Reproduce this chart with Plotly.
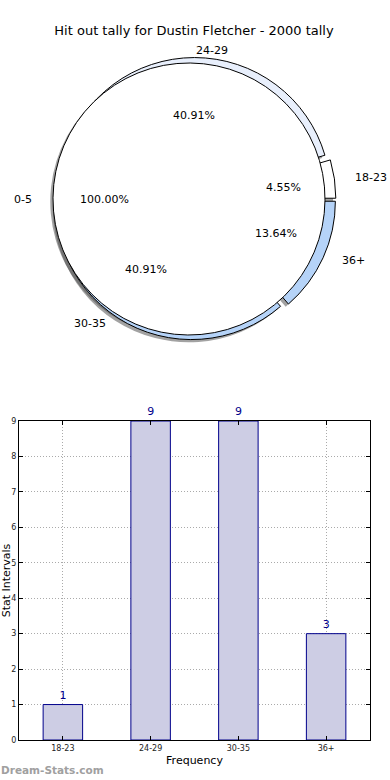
import math
import plotly.graph_objects as go

W, H = 390, 780

# ---------------- data ----------------
title_text = "Hit out tally for Dustin Fletcher - 2000 tally"
categories = ["18-23", "24-29", "30-35", "36+"]
counts = [1, 9, 9, 3]
pie_colors = ["#ffffff", "#e8effc", "#b5d3f8", "#b5d3f8"]
base_label = "0-5"
base_share = 100.0
y_ticks = list(range(10))
x_title = "Frequency"
y_title = "Stat Intervals"
watermark = "Dream-Stats.com"

FONT = "DejaVu Sans"
NAVY = "#00008b"

# ---------------- pie geometry (px) ----------------
CX, CY = 189.0, 199.0        # centre of the white 0-5 disc
R = 136.0                    # radius
EXPLODE = 0.04
LRX, LRY = 141.0, 130.0      # label radii
C0X = CX + EXPLODE * R       # common pie centre
SH = 0.02 * R                # shadow offset

total = sum(counts)
# first slice starts at 3 o'clock and runs counter-clockwise
rot = 90 - counts[0] / total * 360.0


def dom(cx, cy, half):
    return dict(x=[(cx - half) / W, (cx + half) / W],
                y=[1 - (cy + half) / H, 1 - (cy - half) / H])


fig = go.Figure()

common = dict(sort=False, direction="counterclockwise", rotation=rot,
              textinfo="none", hoverinfo="label+percent", showlegend=False)

# shadows
fig.add_trace(go.Pie(labels=categories, values=counts,
                     pull=[EXPLODE] * len(counts),
                     marker=dict(colors=["rgba(70,70,70,0.5)"] * len(counts),
                                 line=dict(width=0)),
                     domain=dom(C0X - SH, CY + SH, R * (1 + EXPLODE)), **common))
fig.add_trace(go.Pie(labels=[base_label], values=[base_share],
                     marker=dict(colors=["rgba(70,70,70,0.5)"], line=dict(width=0)),
                     domain=dom(CX - SH, CY + SH, R), **common))
# exploded wedges
fig.add_trace(go.Pie(labels=categories, values=counts,
                     pull=[EXPLODE] * len(counts),
                     marker=dict(colors=pie_colors, line=dict(color="black", width=1)),
                     domain=dom(C0X, CY, R * (1 + EXPLODE)), **common))
# white 0-5 disc on top
fig.add_trace(go.Pie(labels=[base_label], values=[base_share],
                     marker=dict(colors=["#ffffff"], line=dict(color="black", width=1)),
                     domain=dom(CX, CY, R), **common))

# pie labels computed from the data
annotations = []
start = 0.0
for cat, v in zip(categories, counts):
    span = v / total * 360.0
    mid = math.radians(start + span / 2)
    start += span
    c, s = math.cos(mid), math.sin(mid)
    ox, oy = C0X + EXPLODE * R * c, CY - EXPLODE * R * s
    px_, py_ = ox + 0.6 * LRX * c, oy - 0.6 * LRY * s
    lx, ly = ox + 1.1 * LRX * c, oy - 1.1 * LRY * s
    annotations.append(dict(x=px_ / W, y=1 - py_ / H, xref="paper", yref="paper",
                            text=f"{v / total * 100:.2f}%", showarrow=False,
                            xanchor="center", yanchor="middle",
                            font=dict(size=11, color="black", family=FONT)))
    annotations.append(dict(x=lx / W, y=1 - ly / H, xref="paper", yref="paper",
                            text=cat, showarrow=False,
                            xanchor="left" if c > 0 else "right", yanchor="middle",
                            font=dict(size=11, color="black", family=FONT)))
# 0-5 disc labels (mid angle 180 deg)
annotations.append(dict(x=(CX - 0.6 * LRX) / W, y=1 - CY / H, xref="paper", yref="paper",
                        text=f"{base_share:.2f}%", showarrow=False,
                        xanchor="center", yanchor="middle",
                        font=dict(size=11, color="black", family=FONT)))
annotations.append(dict(x=(CX - 1.1 * LRX) / W, y=1 - CY / H, xref="paper", yref="paper",
                        text=base_label, showarrow=False,
                        xanchor="right", yanchor="middle",
                        font=dict(size=11, color="black", family=FONT)))
annotations.append(dict(x=-1 / W, y=1 - 770 / H, xref="paper", yref="paper",
                        text=f"<b>{watermark}</b>", showarrow=False,
                        xanchor="left", yanchor="middle",
                        font=dict(size=10.5, color="#a0a0a0", family=FONT)))

# ---------------- bar chart ----------------
fig.add_trace(go.Bar(x=categories, y=counts, width=0.45,
                     marker=dict(color="#cdcde4", line=dict(color=NAVY, width=1)),
                     text=counts, textposition="outside", cliponaxis=False,
                     textfont=dict(size=11, color=NAVY, family=FONT),
                     showlegend=False, hoverinfo="x+y"))

axis_common = dict(showline=True, linecolor="black", linewidth=1, mirror="allticks",
                   ticks="inside", ticklen=4, tickcolor="black",
                   showgrid=True, gridcolor="#aaaaaa", griddash="1px,2px", gridwidth=1,
                   zeroline=False, layer="above traces", automargin=False,
                   tickfont=dict(size=8, color="#222", family=FONT))

fig.update_layout(
    width=W, height=H,
    margin=dict(l=0, r=0, t=0, b=0),
    paper_bgcolor="white", plot_bgcolor="white",
    font=dict(family=FONT, color="black"),
    title=dict(text=title_text, x=194 / W, xanchor="center",
               y=1 - 30 / H, yanchor="middle",
               font=dict(size=13, color="black", family=FONT)),
    xaxis=dict(domain=[19 / W, 370 / W], range=[-0.5, 3.5], anchor="y",
               title=dict(text=x_title, standoff=4,
                          font=dict(size=11, color="black", family=FONT)),
               **axis_common),
    yaxis=dict(domain=[1 - 740 / H, 1 - 421 / H], range=[0, 9], anchor="x",
               tickvals=y_ticks,
               title=dict(text=y_title, standoff=2,
                          font=dict(size=11, color="black", family=FONT)),
               **axis_common),
    annotations=annotations,
    bargap=0.55,
)

fig.write_html("out.html",
               config={"displayModeBar": False},
               post_script="document.body.style.margin='0';"
                           "document.body.style.overflow='hidden';")
